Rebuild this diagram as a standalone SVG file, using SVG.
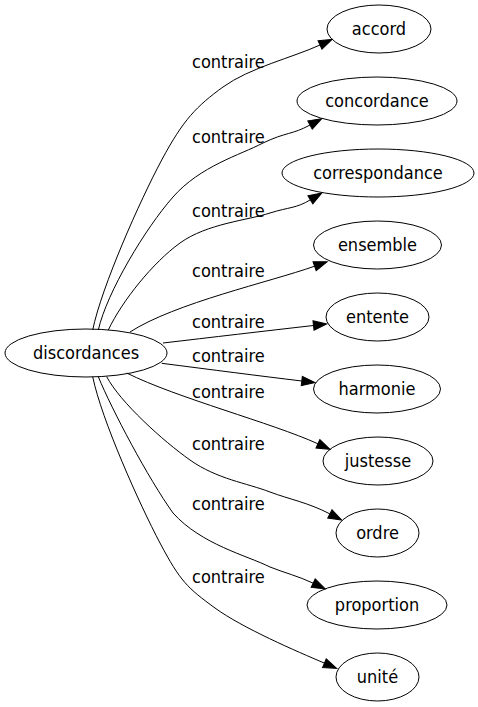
<svg xmlns="http://www.w3.org/2000/svg" width="478" height="707" viewBox="0 0 478 707">
<style>
.n ellipse{fill:none;stroke:#000;stroke-width:1}
text{font-family:"DejaVu Sans Condensed","DejaVu Sans",sans-serif;font-size:18px;fill:#000}
.n text{text-anchor:middle}
.e path{fill:none;stroke:#000;stroke-width:1;marker-end:url(#ah)}
</style>
<defs>
<marker id="ah" markerUnits="userSpaceOnUse" viewBox="0 0 13.3 9.4" refX="0" refY="4.7" markerWidth="13.3" markerHeight="9.4" orient="auto" overflow="visible">
<path d="M0,0 L13.3,4.7 L0,9.4 Z" fill="#000" stroke="#000" stroke-width="1"/>
</marker>
</defs>
<rect width="478" height="707" fill="#fff"/>
<g id="edges" class="e">
<path d="M92.7,330 C101.5,287 140,200.5 161.7,160 C183.4,119.5 196.6,106.2 223,87 C249.4,67.8 292.7,57.5 320,45"/>
<path d="M98.3,330 C107,292 145.5,228.2 173,197 C200.5,165.8 240.2,155 263,143 C286,132 292,134.8 310,125"/>
<path d="M108.3,330 C122,301 153,262.5 180,243 C207,223.5 248.3,220.2 270,213 C289,207 296,208.5 310.4,199.8"/>
<path d="M130,332 C175,303 270,282 314.6,266.2"/>
<path d="M163,343 C210,337.5 265,331 313.5,325.5"/>
<path d="M161.7,363.3 C210,369.5 260,376 301.8,381"/>
<path d="M126.7,373 C176.7,398 272.4,423 317.9,443.8"/>
<path d="M106.7,376.7 C120,402 162.8,440.8 190,460 C217.2,479.2 246.7,483 270,492 C290,499.5 307.7,502.4 329.9,513.9"/>
<path d="M98.3,376.7 C112,410 148,478 173,513 C201.6,544.7 246.6,555.3 270,567 C285,573 298,576 313.2,583.2"/>
<path d="M92.7,376.7 C101.5,419.7 139.6,504.4 160,543 C180.4,581.6 187.6,588 215,608 C242.4,628 296.8,651.4 324.4,663.1"/>
</g>
<g id="labels">
<text x="192" y="68">contraire</text>
<text x="192" y="143">contraire</text>
<text x="192" y="217">contraire</text>
<text x="192" y="277">contraire</text>
<text x="192" y="328">contraire</text>
<text x="192" y="362">contraire</text>
<text x="192" y="398">contraire</text>
<text x="192" y="450">contraire</text>
<text x="192" y="510">contraire</text>
<text x="192" y="583">contraire</text>
</g>
<g id="discordances" class="n"><ellipse cx="86" cy="353" rx="81" ry="24"/><text x="86" y="359">discordances</text></g>
<g id="accord" class="n"><ellipse cx="379" cy="29" rx="52" ry="24"/><text x="379" y="35">accord</text></g>
<g id="concordance" class="n"><ellipse cx="377" cy="101" rx="80" ry="24"/><text x="377" y="107">concordance</text></g>
<g id="correspondance" class="n"><ellipse cx="378" cy="173" rx="96" ry="24"/><text x="378" y="179">correspondance</text></g>
<g id="ensemble" class="n"><ellipse cx="377.5" cy="245" rx="64" ry="24"/><text x="377.5" y="251">ensemble</text></g>
<g id="entente" class="n"><ellipse cx="377.5" cy="317" rx="51.5" ry="24"/><text x="377.5" y="323">entente</text></g>
<g id="harmonie" class="n"><ellipse cx="377" cy="389" rx="63.5" ry="24"/><text x="377" y="395">harmonie</text></g>
<g id="justesse" class="n"><ellipse cx="378" cy="461" rx="55" ry="24"/><text x="378" y="467">justesse</text></g>
<g id="ordre" class="n"><ellipse cx="377.5" cy="533" rx="41.5" ry="24"/><text x="377.5" y="539">ordre</text></g>
<g id="proportion" class="n"><ellipse cx="377" cy="605" rx="70" ry="24"/><text x="377" y="611">proportion</text></g>
<g id="unite" class="n"><ellipse cx="377.5" cy="677" rx="41.5" ry="24"/><text x="377.5" y="683">unité</text></g>
</svg>
